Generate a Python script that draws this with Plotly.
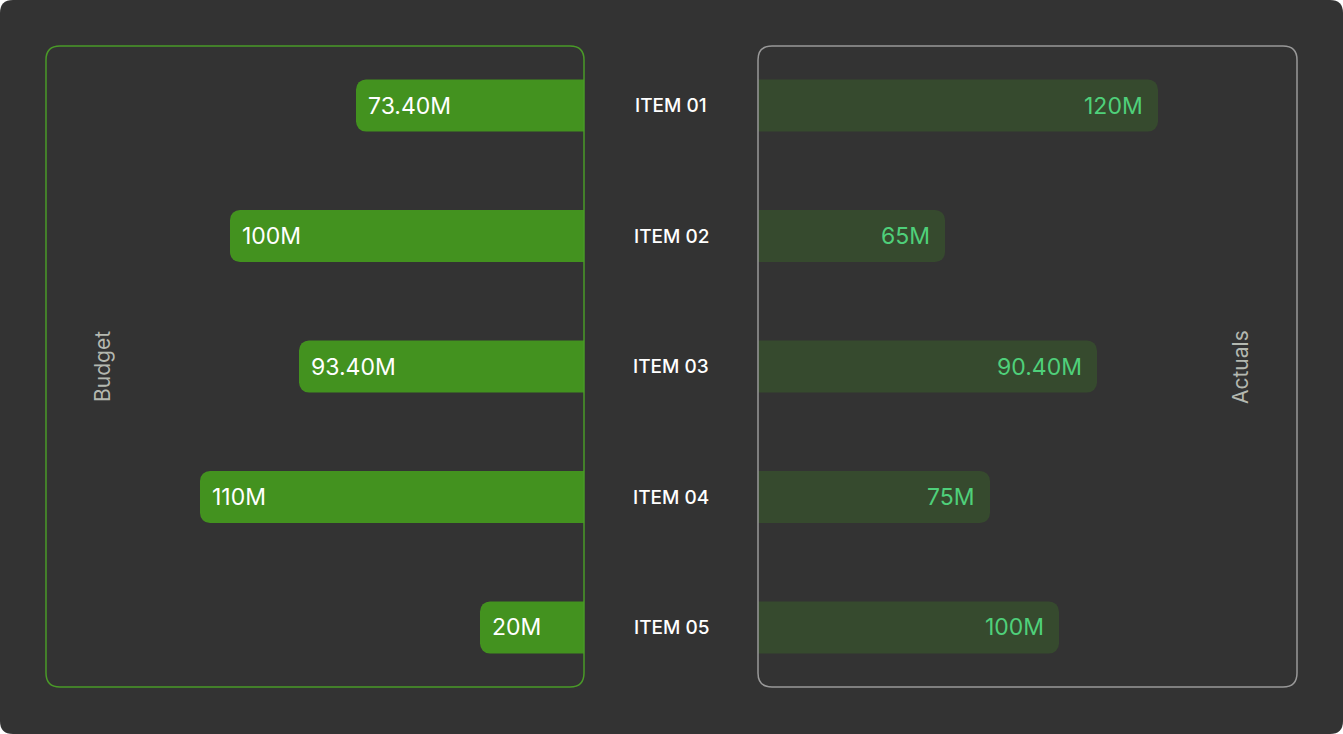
import plotly.graph_objs as go

# Datos
items = ["ITEM 01", "ITEM 02", "ITEM 03", "ITEM 04", "ITEM 05"]
budget_len = [68.4, 106.2, 85.5, 115.2, 31.2]
budget_labels = ["73.40M", "100M", "93.40M", "110M", "20M"]
actual_len = [120, 56.1, 101.7, 69.6, 90.3]
actual_labels = ["120M", "65M", "90.40M", "75M", "100M"]

W, H = 1343, 734
BG = "#333333"
GREEN = "#43921f"
DARK_GREEN = "#364a2e"
TXT_GREEN = "#4fd07a"


def px(x, y):
    return x / W, 1 - y / H


def rounded_rect(x0, y0, x1, y1, r):
    # camino en coordenadas paper a partir de pixeles
    pts = []
    def p(x, y):
        a, b = px(x, y)
        return f"{a:.5f},{b:.5f}"
    pts.append("M" + p(x0 + r, y0))
    pts.append("L" + p(x1 - r, y0))
    pts.append("Q" + p(x1, y0) + " " + p(x1, y0 + r))
    pts.append("L" + p(x1, y1 - r))
    pts.append("Q" + p(x1, y1) + " " + p(x1 - r, y1))
    pts.append("L" + p(x0 + r, y1))
    pts.append("Q" + p(x0, y1) + " " + p(x0, y1 - r))
    pts.append("L" + p(x0, y0 + r))
    pts.append("Q" + p(x0, y0) + " " + p(x0 + r, y0))
    return " ".join(pts) + " Z"


trace1 = go.Bar(y=items, x=budget_len, orientation="h", marker=dict(color=GREEN, line=dict(width=0)),
                width=0.4, xaxis="x", yaxis="y", hoverinfo="skip")
trace2 = go.Bar(y=items, x=actual_len, orientation="h", marker=dict(color=DARK_GREEN, line=dict(width=0)),
                width=0.4, xaxis="x2", yaxis="y", hoverinfo="skip")

annotations = []
for it, v, lab in zip(items, budget_len, budget_labels):
    annotations.append(dict(x=v, y=it, xref="x", yref="y", text=lab, showarrow=False,
                            xanchor="left", xshift=10, font=dict(size=23, color="white")))
for it, v, lab in zip(items, actual_len, actual_labels):
    annotations.append(dict(x=v, y=it, xref="x2", yref="y", text=lab, showarrow=False,
                            xanchor="right", xshift=-13, font=dict(size=23, color=TXT_GREEN)))
for it in items:
    annotations.append(dict(x=671 / W, y=it, xref="paper", yref="y", text=it, showarrow=False,
                            xanchor="center", font=dict(size=19, color="white", weight=500)))
annotations.append(dict(x=102 / W, y=1 - 367 / H, xref="paper", yref="paper", text="Budget",
                        xanchor="center", yanchor="middle",
                        textangle=-90, showarrow=False, font=dict(size=21, color="#b4b8b0")))
annotations.append(dict(x=1240 / W, y=1 - 367 / H, xref="paper", yref="paper", text="Actuals",
                        xanchor="center", yanchor="middle",
                        textangle=-90, showarrow=False, font=dict(size=21, color="#b4b8b0")))

shapes = [
    dict(type="path", path=rounded_rect(0, 0, W, H, 13), xref="paper", yref="paper",
         fillcolor=BG, line=dict(width=0), layer="below"),
    dict(type="path", path=rounded_rect(46, 46, 584, 687, 14), xref="paper", yref="paper",
         line=dict(color="#4a9a28", width=1.5), layer="above"),
    dict(type="path", path=rounded_rect(758, 46, 1297, 687, 14), xref="paper", yref="paper",
         line=dict(color="#999999", width=1.5), layer="above"),
]

layout = go.Layout(
    width=W, height=H, margin=dict(l=0, r=0, t=0, b=0),
    paper_bgcolor="white", plot_bgcolor="rgba(0,0,0,0)",
    font=dict(family="Inter"),
    showlegend=False, barcornerradius=10,
    xaxis=dict(domain=[46 / W, 584 / W], range=[538 / 3.3333, 0], visible=False, fixedrange=True),
    xaxis2=dict(domain=[758 / W, 1297 / W], range=[0, 539 / 3.3333], anchor="y", visible=False, fixedrange=True),
    yaxis=dict(domain=[1 - 687 / H, 1 - 46 / H], range=[4.456, -0.456], type="category", visible=False, fixedrange=True),
    annotations=annotations, shapes=shapes,
)

fig = go.Figure(data=[trace1, trace2], layout=layout)
fig.write_html("out.html", config={"displayModeBar": False},
               post_script="document.body.style.margin='0';document.body.style.overflow='hidden';")
